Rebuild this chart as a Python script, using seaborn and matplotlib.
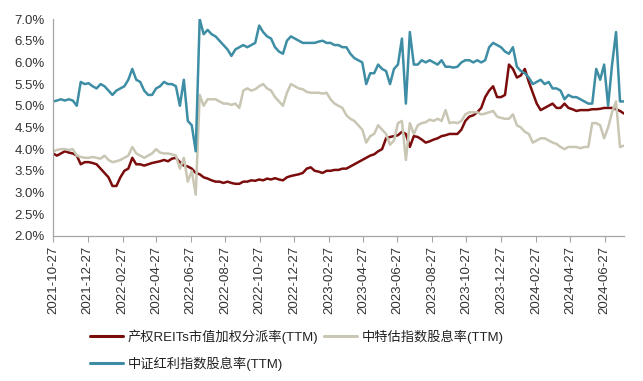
import numpy as np
import pandas as pd
import matplotlib
matplotlib.use("Agg")
import matplotlib.pyplot as plt
import seaborn as sns
from matplotlib.lines import Line2D

start_date = "2021-10-27"

reits = [3.90, 3.85, 3.90, 3.95, 3.92, 3.90, 3.85, 3.65, 3.70, 3.70, 3.68, 3.65, 3.55, 3.45, 3.35, 3.15,
         3.15, 3.35, 3.50, 3.55, 3.80, 3.65, 3.65, 3.62, 3.65, 3.68, 3.70, 3.72, 3.75, 3.72, 3.78, 3.80,
         3.70, 3.62, 3.60, 3.55, 3.45, 3.42, 3.35, 3.32, 3.28, 3.25, 3.25, 3.22, 3.25, 3.22, 3.20, 3.20,
         3.25, 3.25, 3.28, 3.27, 3.30, 3.28, 3.32, 3.30, 3.33, 3.30, 3.28, 3.35, 3.38, 3.40, 3.42, 3.45,
         3.55, 3.58, 3.50, 3.48, 3.45, 3.50, 3.50, 3.52, 3.52, 3.55, 3.55, 3.60, 3.65, 3.70, 3.75, 3.80,
         3.85, 3.88, 3.95, 4.00, 4.25, 4.28, 4.30, 4.32, 4.40, 4.35, 4.05, 4.30, 4.28, 4.22, 4.15, 4.18,
         4.22, 4.25, 4.30, 4.32, 4.35, 4.35, 4.35, 4.45, 4.65, 4.75, 4.78, 4.85, 4.95, 5.20, 5.35, 5.45,
         5.20, 5.20, 5.25, 5.95, 5.85, 5.65, 5.70, 5.85, 5.55, 5.30, 5.05, 4.90, 4.95, 5.00, 5.05, 4.95,
         4.95, 5.05, 4.95, 4.92, 4.88, 4.90, 4.90, 4.90, 4.92, 4.92, 4.93, 4.95, 4.95, 4.95, 4.92, 4.88,
         4.82]

cte = [3.95, 3.98, 4.00, 4.00, 3.98, 4.00, 3.85, 3.82, 3.80, 3.80, 3.82, 3.80, 3.78, 3.85, 3.75, 3.70,
       3.72, 3.75, 3.80, 3.85, 4.05, 3.90, 3.85, 3.80, 3.85, 3.90, 4.00, 3.92, 3.90, 3.90, 3.88, 3.85,
       3.55, 3.80, 3.25, 3.50, 2.95, 5.25, 5.00, 5.15, 5.15, 5.15, 5.10, 5.05, 5.05, 5.02, 5.05, 4.95,
       5.35, 5.40, 5.35, 5.38, 5.45, 5.50, 5.40, 5.35, 5.20, 5.10, 5.00, 5.30, 5.50, 5.45, 5.40, 5.38,
       5.32, 5.30, 5.30, 5.30, 5.28, 5.30, 5.15, 5.05, 5.00, 4.95, 4.78, 4.70, 4.65, 4.55, 4.45, 4.15,
       4.30, 4.35, 4.55, 4.45, 4.35, 4.10, 4.20, 4.60, 4.65, 3.75, 4.60, 4.35, 4.55, 4.60, 4.62, 4.68,
       4.65, 4.70, 4.65, 4.90, 4.60, 4.62, 4.60, 4.65, 4.80, 4.85, 4.85, 4.85, 4.80, 4.82, 4.85, 4.88,
       4.75, 4.72, 4.70, 4.70, 4.80, 4.55, 4.50, 4.40, 4.35, 4.15, 4.20, 4.25, 4.25, 4.20, 4.15, 4.12,
       4.05, 4.00, 4.05, 4.05, 4.05, 4.02, 4.05, 4.05, 4.60, 4.60, 4.55, 4.25, 4.50, 4.85, 5.10, 4.05,
       4.08]

dividend = [5.10, 5.12, 5.15, 5.12, 5.15, 5.12, 5.00, 5.55, 5.50, 5.52, 5.45, 5.40, 5.50, 5.45, 5.35, 5.25,
            5.35, 5.40, 5.45, 5.60, 5.85, 5.60, 5.55, 5.35, 5.25, 5.25, 5.40, 5.45, 5.55, 5.50, 5.50, 5.45,
            5.00, 5.60, 4.65, 4.55, 3.95, 7.00, 6.65, 6.75, 6.65, 6.60, 6.50, 6.40, 6.30, 6.15, 6.30, 6.35,
            6.40, 6.35, 6.40, 6.45, 6.85, 6.70, 6.60, 6.55, 6.35, 6.25, 6.20, 6.50, 6.60, 6.55, 6.50, 6.45,
            6.45, 6.45, 6.45, 6.48, 6.50, 6.45, 6.45, 6.40, 6.40, 6.35, 6.35, 6.20, 6.10, 6.05, 6.00, 5.50,
            5.75, 5.75, 5.95, 5.85, 5.80, 5.50, 5.85, 5.95, 6.55, 5.05, 6.70, 5.95, 5.95, 6.05, 6.00, 6.05,
            6.00, 5.95, 6.05, 5.90, 5.90, 5.88, 5.90, 6.00, 6.05, 6.05, 6.00, 6.05, 6.00, 6.05, 6.35, 6.45,
            6.40, 6.35, 6.25, 6.20, 6.35, 5.90, 5.80, 5.75, 5.65, 5.50, 5.55, 5.60, 5.50, 5.55, 5.40, 5.40,
            5.35, 5.15, 5.25, 5.20, 5.20, 5.15, 5.10, 5.05, 5.05, 5.85, 5.60, 5.95, 5.00, 5.95, 6.70, 5.10,
            5.10]

names = ["产权REITs市值加权分派率(TTM)", "中特估指数股息率(TTM)", "中证红利指数股息率(TTM)"]
colors = ["#7B0C0C", "#C9C6B4", "#3D8DA4"]
tick_labels = ["2021-10-27", "2021-12-27", "2022-02-27", "2022-04-27", "2022-06-27", "2022-08-27",
               "2022-10-27", "2022-12-27", "2023-02-27", "2023-04-27", "2023-06-27", "2023-08-27",
               "2023-10-27", "2023-12-27", "2024-02-27", "2024-04-27", "2024-06-27"]

dates = pd.date_range(start_date, periods=len(reits), freq="7D")
df = pd.concat([
    pd.DataFrame({"date": dates, "value": np.array(v) / 100, "series": n})
    for v, n in zip([reits, cte, dividend], names)
])

sns.set_style("white")
plt.rcParams["font.family"] = ["Liberation Sans", "Noto Sans CJK SC", "DejaVu Sans"]

fig = plt.figure(figsize=(6.43, 3.81), dpi=100)
ax = fig.add_axes([0.0824, 0.381, 0.888, 0.569])
sns.lineplot(data=df, x="date", y="value", hue="series", hue_order=names,
             palette=colors, linewidth=1.8, ax=ax, legend=False)

ax.set_ylim(0.02, 0.07)
ax.set_yticks(np.arange(0.02, 0.0701, 0.005))
ax.yaxis.set_major_formatter(matplotlib.ticker.FuncFormatter(lambda v, p: f"{v*100:.1f}%"))
ticks = pd.to_datetime(tick_labels)
ax.set_xticks(ticks)
ax.set_xticklabels(tick_labels, rotation=90)
ax.set_xlim(dates[0], dates[-1])
ax.set_xlabel("")
ax.set_ylabel("")
for s in ["top", "right"]:
    ax.spines[s].set_visible(False)
for s in ["left", "bottom"]:
    ax.spines[s].set_color("#A6A6A6")
    ax.spines[s].set_linewidth(0.9)
ax.tick_params(axis="y", length=0, labelsize=9.5, colors="#333333", pad=6)
ax.tick_params(axis="x", length=4, width=0.8, color="#A6A6A6", labelsize=9.5,
               labelcolor="#333333", pad=3, bottom=True)

handles = [Line2D([], [], color=colors[0], lw=2.2),
           Line2D([], [], color=colors[2], lw=2.2),
           Line2D([], [], color=colors[1], lw=2.2)]
labels = [names[0], names[2], names[1]]
leg = fig.legend(handles, labels, loc="upper left", bbox_to_anchor=(0.140, 0.135),
                 ncol=2, frameon=False, handlelength=2.5,
                 handletextpad=0.38, columnspacing=0.38, labelspacing=0.95,
                 borderaxespad=0, borderpad=0,
                 prop={"family": ["Liberation Sans", "Noto Sans CJK SC"], "size": 9.5})
for t in leg.get_texts():
    t.set_color("#222222")

fig.savefig("out.png", dpi=100)
